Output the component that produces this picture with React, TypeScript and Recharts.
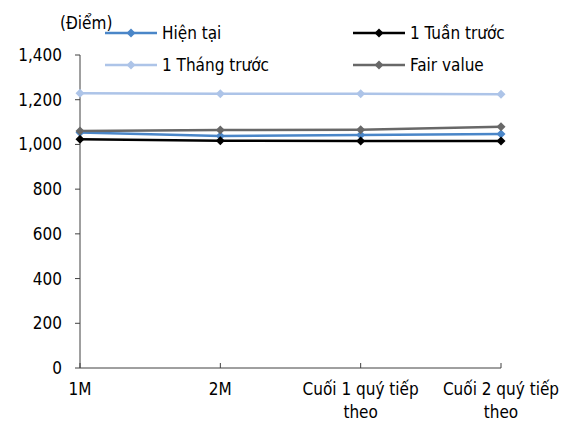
import React from "react";
import { LineChart, Line, XAxis, YAxis } from "recharts";

const categories = ["1M", "2M", "Cuối 1 quý tiếp theo", "Cuối 2 quý tiếp theo"];
const hienTai = [1053, 1038, 1042, 1047];
const tuanTruoc = [1023, 1017, 1015, 1015];
const thangTruoc = [1229, 1227, 1227, 1224];
const fairValue = [1060, 1064, 1066, 1079];
const yTicks = [0, 200, 400, 600, 800, 1000, 1200, 1400];

const series = [
  { key: "hienTai", name: "Hiện tại", color: "#4a86c8" },
  { key: "tuanTruoc", name: "1 Tuần trước", color: "#000000" },
  { key: "thangTruoc", name: "1 Tháng trước", color: "#adc4e8" },
  { key: "fairValue", name: "Fair value", color: "#686868" },
];

const data = categories.map((c, i) => ({
  cat: c,
  hienTai: hienTai[i],
  tuanTruoc: tuanTruoc[i],
  thangTruoc: thangTruoc[i],
  fairValue: fairValue[i],
}));

const FONT = "'DejaVu Sans Condensed', 'DejaVu Sans', sans-serif";
const FS = 17;

function diamond(color: string) {
  return (props: any) => {
    const { cx, cy, index } = props;
    if (cx == null || cy == null) return <g key={index} />;
    const r = 4.5;
    return (
      <path
        key={index}
        d={`M${cx},${cy - r}L${cx + r},${cy}L${cx},${cy + r}L${cx - r},${cy}Z`}
        fill={color}
      />
    );
  };
}

// wrap long category names onto two lines
function wrap(label: string, max = 15) {
  const words = label.split(" ");
  const lines: string[] = [];
  let cur = "";
  for (const w of words) {
    const next = cur ? cur + " " + w : w;
    if (next.length > max && cur) {
      lines.push(cur);
      cur = w;
    } else cur = next;
  }
  if (cur) lines.push(cur);
  return lines;
}

// axis line sits at 368; labels are placed from it
function XTick(props: any) {
  const { x, payload } = props;
  const lines = wrap(String(payload.value));
  return (
    <g>
      {lines.map((l, i) => (
        <text
          key={i}
          x={x}
          y={395 + i * 23}
          textAnchor="middle"
          fontSize={FS}
          fill="#000"
          fontFamily={FONT}
          style={{ fontStretch: "condensed" }}
        >
          {l}
        </text>
      ))}
    </g>
  );
}

const legendPos = [
  { left: 105, top: 33 },
  { left: 353, top: 33 },
  { left: 105, top: 65 },
  { left: 353, top: 65 },
];

export default function App() {
  return (
    <div
      style={{
        position: "relative",
        width: 574,
        height: 428,
        margin: -8,
        fontFamily: FONT,
        fontStretch: "condensed",
        background: "#fff",
        overflow: "hidden",
      }}
    >
      <LineChart width={574} height={428} data={data} margin={{ top: 55, right: 73, bottom: 0, left: 0 }}>
        <XAxis
          dataKey="cat"
          stroke="#404040"
          tickSize={-5}
          tickMargin={0}
          height={60}
          interval={0}
          tick={<XTick />}
        />
        <YAxis
          domain={[0, 1400]}
          ticks={yTicks}
          width={80}
          stroke="#404040"
          tickSize={5}
          tickMargin={13}
          tick={{ fontSize: FS, fill: "#000", fontFamily: FONT, style: { fontStretch: "condensed" } }}
          tickFormatter={(v: number) => v.toLocaleString("en-US")}
        />
        {series.map((s) => (
          <Line
            key={s.key}
            dataKey={s.key}
            name={s.name}
            stroke={s.color}
            strokeWidth={2.5}
            dot={diamond(s.color)}
            activeDot={false}
            isAnimationActive={false}
          />
        ))}
      </LineChart>
      <div style={{ position: "absolute", left: 60, top: 12, fontSize: FS, lineHeight: "22px", whiteSpace: "nowrap" }}>
        (Điểm)
      </div>
      {series.map((s, i) => (
        <div
          key={s.key}
          style={{
            position: "absolute",
            left: legendPos[i].left,
            top: legendPos[i].top - 11,
            height: 22,
            display: "flex",
            alignItems: "center",
            fontSize: FS,
            whiteSpace: "nowrap",
          }}
        >
          <svg width={52} height={12} style={{ marginRight: 5 }}>
            <line x1={0} y1={6} x2={52} y2={6} stroke={s.color} strokeWidth={2.5} />
            <path d="M26,1.5L30.5,6L26,10.5L21.5,6Z" fill={s.color} />
          </svg>
          <span>{s.name}</span>
        </div>
      ))}
    </div>
  );
}
